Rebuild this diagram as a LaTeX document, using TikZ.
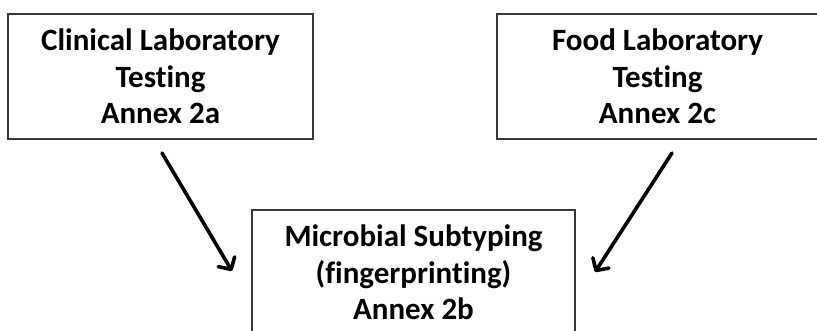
\documentclass[tikz,border=0pt]{standalone}
\usepackage{fontspec}
\setmainfont{Carlito}[RawFeature={-liga}]
\usetikzlibrary{arrows.meta}
\begin{document}
\begin{tikzpicture}[x=1pt,y=-1pt,
  box/.style={draw=black!78, line width=1.8pt, minimum width=#1, minimum height=125pt,
    inner sep=0pt, align=center, font=\fontsize{31}{36.5}\selectfont\bfseries},
  conn/.style={line width=3.6pt, line cap=round,
    -{Straight Barb[length=9pt,width=19pt,line cap=round,line join=round]}}]
  \useasboundingbox (0,0) rectangle (817,330);
  \node[box=305pt] (clin) at (160.5,76.5) {Clinical Laboratory\\Testing\\Annex 2a};
  \node[box=321pt] (food) at (657.5,76.5) {Food Laboratory\\Testing\\Annex 2c};
  \node[box=323pt] (sub) at (413.5,272.5) {Microbial Subtyping\\(fingerprinting)\\Annex 2b};
  \coordinate (c1) at (162,153);
  \coordinate (c2) at (232,271);
  \coordinate (f1) at (672,153);
  \coordinate (f2) at (595,272);
  \draw[conn] (c1) -- (c2);
  \draw[conn] (f1) -- (f2);
\end{tikzpicture}
\end{document}
